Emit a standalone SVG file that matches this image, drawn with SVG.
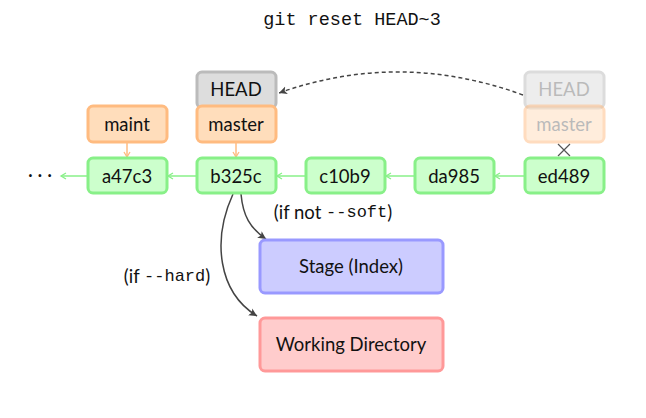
<svg xmlns="http://www.w3.org/2000/svg" width="646" height="418" viewBox="0 0 646 418">
<style>
text{font-family:Lato,"Open Sans","DejaVu Sans",sans-serif;font-size:18.5px;fill:#111;text-anchor:middle;dominant-baseline:central}
.mono{font-family:"Liberation Mono","DejaVu Sans Mono",monospace;font-size:17px}
.title{font-family:"Liberation Mono","DejaVu Sans Mono",monospace;font-size:18.5px}
.commit{fill:#ccffcc;stroke:#88f088;stroke-width:3}
.branch{fill:#ffddbb;stroke:#ffbb80;stroke-width:3}
.head{fill:#dddddd;stroke:#bbbbbb;stroke-width:3}
.stage{fill:#ccccff;stroke:#9999ff;stroke-width:3}
.work{fill:#ffcccc;stroke:#ff9999;stroke-width:3}
.gl{stroke:#88f088;stroke-width:1.5;fill:none}
.ol{stroke:#ffbb80;stroke-width:1.5;fill:none}
.dk{stroke:#444;stroke-width:1.5;fill:none}
</style>
<defs>
<marker id="ag" markerWidth="8" markerHeight="8" refX="6" refY="4" orient="auto" markerUnits="userSpaceOnUse"><path d="M1,1 L6,4 L1,7" fill="none" stroke="#88f088" stroke-width="1.3"/></marker>
<marker id="ao" markerWidth="8" markerHeight="8" refX="6" refY="4" orient="auto" markerUnits="userSpaceOnUse"><path d="M1,1 L6,4 L1,7" fill="none" stroke="#ffbb80" stroke-width="1.3"/></marker>
<marker id="ad" markerWidth="10" markerHeight="10" refX="8" refY="5" orient="auto" markerUnits="userSpaceOnUse"><path d="M0,1 L8,5 L0,9 L2,5 Z" fill="#444"/></marker>
</defs>
<text class="title" x="352" y="20">git reset HEAD~3</text>
<g id="connectors">
<line class="gl" x1="87" y1="176" x2="61" y2="176" marker-end="url(#ag)"/>
<line class="gl" x1="196" y1="176" x2="168" y2="176" marker-end="url(#ag)"/>
<line class="gl" x1="305" y1="176" x2="277" y2="176" marker-end="url(#ag)"/>
<line class="gl" x1="414" y1="176" x2="386" y2="176" marker-end="url(#ag)"/>
<line class="gl" x1="524" y1="176" x2="495" y2="176" marker-end="url(#ag)"/>
<line class="ol" x1="127" y1="143" x2="127" y2="157" marker-end="url(#ao)"/>
<line class="ol" x1="236" y1="143" x2="236" y2="157" marker-end="url(#ao)"/>
<path d="M558,144 L570,156 M570,144 L558,156" stroke="#555" stroke-width="1.2" fill="none"/>
<path class="dk" d="M523,95 Q400,50 279,93" stroke-dasharray="4,3" marker-end="url(#ad)"/>
<path class="dk" d="M241,194 C243,216 250,228 266,239" marker-end="url(#ad)"/>
<path class="dk" d="M233,194 C212,240 218,292 257,316" marker-end="url(#ad)"/>
<text x="333" y="212">(if not <tspan class="mono">--soft</tspan>)</text>
<text x="167" y="276">(if <tspan class="mono">--hard</tspan>)</text>
</g>
<g id="dots"><text x="40" y="174">· · ·</text></g>
<g id="maint"><rect class="branch" x="88" y="106" width="79" height="36" rx="5"/><text x="127" y="124">maint</text></g>
<g id="head"><rect class="head" x="197" y="72" width="79" height="36" rx="5"/><text x="236" y="89">HEAD</text></g>
<g id="master"><rect class="branch" x="197" y="106" width="79" height="36" rx="5"/><text x="236" y="124">master</text></g>
<g id="head-old" opacity="0.5"><rect class="head" x="525" y="72" width="79" height="36" rx="5"/><text x="564" y="89" style="fill:#777">HEAD</text></g>
<g id="master-old" opacity="0.5"><rect class="branch" x="525" y="106" width="79" height="36" rx="5"/><text x="564" y="124" style="fill:#777">master</text></g>
<g id="a47c3"><rect class="commit" x="88" y="158" width="79" height="35" rx="5"/><text x="127" y="176">a47c3</text></g>
<g id="b325c"><rect class="commit" x="197" y="158" width="79" height="35" rx="5"/><text x="236" y="176">b325c</text></g>
<g id="c10b9"><rect class="commit" x="306" y="158" width="79" height="35" rx="5"/><text x="345" y="176">c10b9</text></g>
<g id="da985"><rect class="commit" x="415" y="158" width="79" height="35" rx="5"/><text x="454" y="176">da985</text></g>
<g id="ed489"><rect class="commit" x="525" y="158" width="79" height="35" rx="5"/><text x="564" y="176">ed489</text></g>
<g id="stage"><rect class="stage" x="260" y="240" width="183" height="53" rx="5"/><text x="351" y="266">Stage (Index)</text></g>
<g id="workdir"><rect class="work" x="260" y="318" width="183" height="53" rx="5"/><text x="351" y="344">Working Directory</text></g>
</svg>
